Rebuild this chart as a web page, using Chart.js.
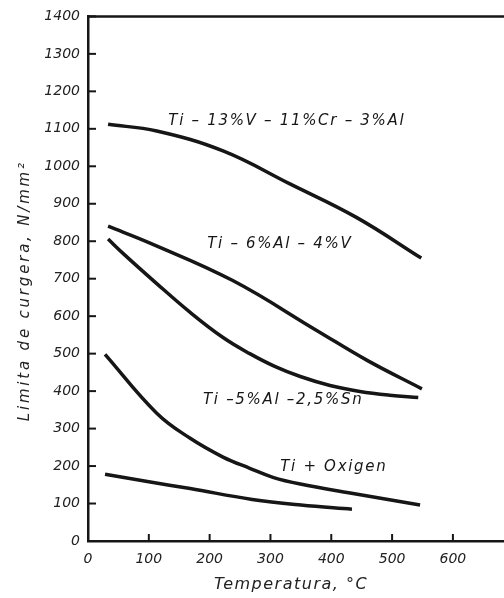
<!DOCTYPE html>
<html>
<head>
<meta charset="utf-8">
<script src="https://cdn.jsdelivr.net/npm/chart.js@4.4.1/dist/chart.umd.min.js"></script>
<style>
  html, body { margin: 0; padding: 0; background: #fff; }
</style>
</head>
<body>
<canvas id="chart" width="504" height="598"></canvas>
<script>
// values (temperature in degC, yield limit in N/mm2)
var temp13V = [33, 113, 222, 332, 442, 548];
var ti13V   = [1112, 1094, 1041, 953, 863, 755];

var temp6Al = [33, 102, 238, 376, 459, 549];
var ti6Al   = [840, 795, 695, 562, 482, 406];

var temp5Al = [33, 58, 113, 168, 222, 266, 307, 349, 398, 447, 496, 543];
var ti5Al   = [806, 767, 687, 610, 543, 500, 466, 439, 415, 399, 389, 383];

var tempOx  = [28, 113, 168, 222, 266, 304, 349, 431, 546];
var tiOx    = [498, 341, 274, 224, 194, 170, 152, 128, 96];

var tempLow = [28, 100, 168, 270, 350, 434];
var tiLow   = [178, 158, 140, 111, 96, 85];

var xTicks = [0, 100, 200, 300, 400, 500, 600];
var yTicks = [0, 100, 200, 300, 400, 500, 600, 700, 800, 900, 1000, 1100, 1200, 1300, 1400];

var curveLabels = ['Ti \u2013 13%V \u2013 11%Cr \u2013 3%Al', 'Ti \u2013 6%Al \u2013 4%V', 'Ti \u20135%Al \u20132,5%Sn', 'Ti + Oxigen'];
var labelX = [132, 196, 189, 316];
var labelY = [1120, 793, 375, 197];

var ink = '#161616';

function toPoints(xs, ys) {
	return xs.map(function(x, i) { return { x: x, y: ys[i] }; });
}

function line(xs, ys) {
	return {
		data: toPoints(xs, ys),
		borderColor: ink,
		borderWidth: 3.5,
		pointRadius: 0,
		fill: false,
		tension: 0.4
	};
}

// frame top, inner tick marks, curve labels, axis titles
var decor = {
	id: 'decor',
	afterDraw: function(chart) {
		var ctx = chart.ctx, a = chart.chartArea;
		var xs = chart.scales.x, ys = chart.scales.y;
		ctx.save();
		ctx.strokeStyle = ink;
		ctx.lineWidth = 2.5;
		ctx.beginPath();
		ctx.moveTo(a.left, a.top);
		ctx.lineTo(a.right, a.top);
		ctx.stroke();

		ctx.lineWidth = 2;
		yTicks.forEach(function(v) {
			var p = ys.getPixelForValue(v);
			ctx.beginPath();
			ctx.moveTo(a.left, p);
			ctx.lineTo(a.left + 8, p);
			ctx.stroke();
		});
		xTicks.forEach(function(v) {
			var p = xs.getPixelForValue(v);
			ctx.beginPath();
			ctx.moveTo(p, a.bottom);
			ctx.lineTo(p, a.bottom - 7);
			ctx.stroke();
		});

		ctx.fillStyle = ink;
		ctx.font = 'italic 15px "DejaVu Sans"';
		ctx.letterSpacing = '1.7px';
		ctx.textAlign = 'left';
		ctx.textBaseline = 'middle';
		curveLabels.forEach(function(t, i) {
			ctx.fillText(t, xs.getPixelForValue(labelX[i]), ys.getPixelForValue(labelY[i]));
		});

		ctx.fillStyle = '#222';
		ctx.font = 'italic 16px "DejaVu Sans"';
		ctx.letterSpacing = '1.5px';
		ctx.textAlign = 'center';
		ctx.fillText('Temperatura, \u00b0C', (a.left + a.right) / 2 - 5, 585);

		ctx.font = 'italic 15px "DejaVu Sans"';
		ctx.letterSpacing = '2.8px';
		ctx.translate(25, (a.top + a.bottom) / 2 + 12);
		ctx.rotate(-Math.PI / 2);
		ctx.fillText('Limita de curgera, N/mm\u00b2', 0, 0);
		ctx.restore();
	}
};

var tickFont = { family: 'DejaVu Sans', style: 'italic', size: 14 };

var chart = new Chart(document.getElementById('chart'), {
	type: 'line',
	data: {
		datasets: [
			line(temp13V, ti13V),
			line(temp6Al, ti6Al),
			line(temp5Al, ti5Al),
			line(tempOx, tiOx),
			line(tempLow, tiLow)
		]
	},
	options: {
		responsive: false,
		animation: false,
		layout: { padding: { top: 15, right: 0, bottom: 0, left: 0 } },
		plugins: {
			legend: { display: false },
			tooltip: { enabled: false }
		},
		scales: {
			x: {
				type: 'linear',
				min: 0,
				max: 684,
				afterBuildTicks: function(s) { s.ticks = xTicks.map(function(v) { return { value: v }; }); },
				afterFit: function(s) { s.height = 57; },
				grid: { display: false, drawTicks: false },
				border: { display: true, color: ink, width: 2.5 },
				ticks: {
					padding: 10,
					color: '#222',
					font: tickFont,
					callback: function(v) { return String(v); }
				}
			},
			y: {
				type: 'linear',
				min: 0,
				max: 1400,
				afterBuildTicks: function(s) { s.ticks = yTicks.map(function(v) { return { value: v }; }); },
				afterFit: function(s) { s.width = 88; },
				grid: { display: false, drawTicks: false },
				border: { display: true, color: ink, width: 2.5 },
				ticks: {
					padding: 8,
					color: '#222',
					font: tickFont,
					callback: function(v) { return String(v); }
				}
			}
		}
	},
	plugins: [decor]
});
</script>
</body>
</html>
